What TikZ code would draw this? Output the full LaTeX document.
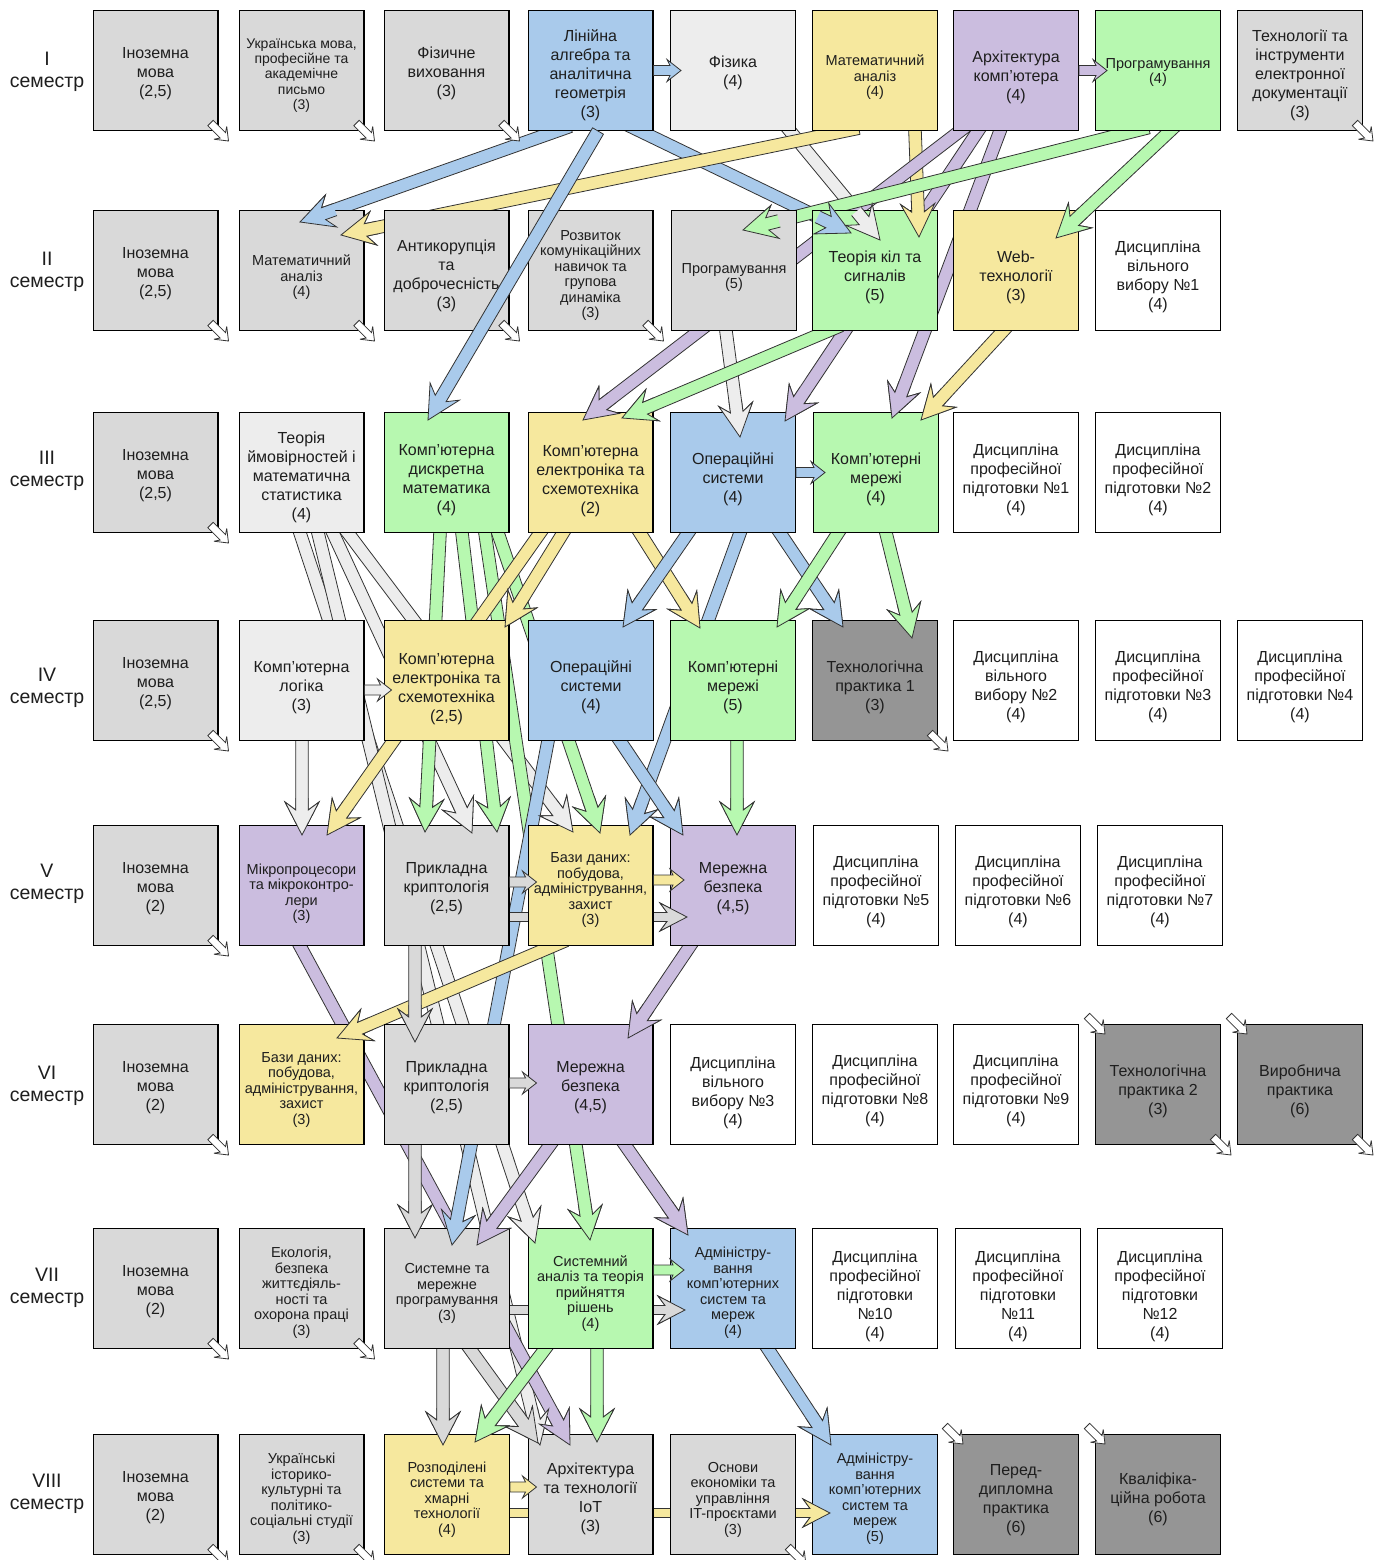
\documentclass[tikz,border=0pt]{standalone}
\usepackage{fontspec}
\setmainfont{Liberation Sans}
\usetikzlibrary{calc}
\pgfdeclarelayer{bg}
\pgfdeclarelayer{fg}
\pgfsetlayers{bg,main,fg}
\definecolor{cgray}{HTML}{D9D9D9}
\definecolor{clight}{HTML}{EDEDED}
\definecolor{cblue}{HTML}{A9CAEB}
\definecolor{cyel}{HTML}{F6E89E}
\definecolor{cpur}{HTML}{CBBDDF}
\definecolor{cgrn}{HTML}{B7F8B0}
\definecolor{cdark}{HTML}{959595}
\definecolor{ctext}{HTML}{1E1E1E}
\newcommand\fN{\fontsize{16}{19}\selectfont}
\newcommand\fS{\fontsize{14.5}{15.5}\selectfont}
\newcommand\fT{\fontsize{14}{15.2}\selectfont}
\newcommand\fL{\fontsize{19.5}{22}\selectfont}
\newcommand\bigarr{\def\asw{6.3pt}\def\ahi{25pt}\def\ahl{33pt}\def\ahw{17pt}\def\ahb{37pt}}
\newcommand\smarr{\def\asw{5pt}\def\ahi{11pt}\def\ahl{14pt}\def\ahw{11pt}\def\ahb{16pt}}
\newcommand\medarr{\def\asw{4.5pt}\def\ahi{20pt}\def\ahl{27pt}\def\ahw{14pt}\def\ahb{30pt}}
\newcommand\cnarr{\def\asw{3.8pt}\def\ahi{8pt}\def\ahl{11.5pt}\def\ahw{9pt}\def\ahb{13pt}}
\bigarr
\def\aext{0pt}
\newcommand\arrfull[3]{%
 \path[arrline,fill=#1] let \p1=(#2),\p2=(#3),\n1={atan2(\y2-\y1,\x2-\x1)} in
 ($(\p1)+(\n1+180:\aext)+(\n1+90:\asw)$) -- ($(\p2)+(\n1+180:\ahi)+(\n1+90:\asw)$) -- ($(\p2)+(\n1+180:\ahl)+(\n1+90:\ahw)$) -- (\p2) -- ($(\p2)+(\n1+180:\ahl)+(\n1-90:\ahw)$) -- ($(\p2)+(\n1+180:\ahi)+(\n1-90:\asw)$) -- ($(\p1)+(\n1+180:\aext)+(\n1-90:\asw)$) -- cycle;}
\newcommand\arrtip[3]{%
 \path[fill=#1] let \p1=(#2),\p2=(#3),\n1={atan2(\y2-\y1,\x2-\x1)} in
 ($(\p2)+(\n1+180:\ahb)+(\n1+90:\asw)$) -- ($(\p2)+(\n1+180:\ahi)+(\n1+90:\asw)$) -- ($(\p2)+(\n1+180:\ahl)+(\n1+90:\ahw)$) -- (\p2) -- ($(\p2)+(\n1+180:\ahl)+(\n1-90:\ahw)$) -- ($(\p2)+(\n1+180:\ahi)+(\n1-90:\asw)$) -- ($(\p2)+(\n1+180:\ahb)+(\n1-90:\asw)$) -- cycle;
 \path[arrline] let \p1=(#2),\p2=(#3),\n1={atan2(\y2-\y1,\x2-\x1)} in
 ($(\p2)+(\n1+180:\ahb)+(\n1+90:\asw)$) -- ($(\p2)+(\n1+180:\ahi)+(\n1+90:\asw)$) -- ($(\p2)+(\n1+180:\ahl)+(\n1+90:\ahw)$) -- (\p2) -- ($(\p2)+(\n1+180:\ahl)+(\n1-90:\ahw)$) -- ($(\p2)+(\n1+180:\ahi)+(\n1-90:\asw)$) -- ($(\p2)+(\n1+180:\ahb)+(\n1-90:\asw)$);}
\newcommand\conn[3]{{\def\aext{14pt}\begin{pgfonlayer}{bg}\arrfull{#1}{#2}{#3}\end{pgfonlayer}}\begin{pgfonlayer}{fg}\arrtip{#1}{#2}{#3}\end{pgfonlayer}}
\newcommand\connT[3]{\begin{pgfonlayer}{fg}\arrfull{#1}{#2}{#3}\end{pgfonlayer}}
\newcommand\cornerBR[1]{{\cnarr\connT{white}{$(#1.south east)+(-8,-8)$}{$(#1.south east)+(10,10)$}}}
\newcommand\cornerTL[1]{{\cnarr\connT{white}{$(#1.north west)+(-8,-8)$}{$(#1.north west)+(10,10)$}}}
\tikzset{
 box/.style={draw=black, line width=1.4pt, minimum width=124.6pt, minimum height=119.6pt, inner sep=1pt},
 txt/.style={align=center, inner sep=0pt, text=ctext},
 sem/.style={align=center, font=\fL, text=ctext},
 arrline/.style={draw=black!80, line width=0.8pt, line join=miter, miter limit=5}
}
% \bx[dy]{name}{x}{y}{fill}{font}{text}
\newcommand\bx[7][5]{\node[box,fill=#5] (#2) at (#3,#4) {};\node[txt,font=#6] (#2t) at (#3,#4+#1) {#7};}
\begin{document}
\begin{tikzpicture}[x=1pt,y=-1pt]
\useasboundingbox (0,0) rectangle (1386,1560);
\begin{pgfonlayer}{bg}\fill[white] (0,0) rectangle (1386,1560);\end{pgfonlayer}
% semester labels
\node[sem] (s1) at (47,72) {I\\семестр};
\node[sem] (s2) at (47,272) {II\\семестр};
\node[sem] (s3) at (47,470.5) {III\\семестр};
\node[sem] (s4) at (47,688) {IV\\семестр};
\node[sem] (s5) at (47,884) {V\\семестр};
\node[sem] (s6) at (47,1086) {VI\\семестр};
\node[sem] (s7) at (47,1288) {VII\\семестр};
\node[sem] (s8) at (47,1494) {VIII\\семестр};
% row 1
\bx[3]{b11}{155.5}{70.5}{cgray}{\fN}{Іноземна\\мова\\(2,5)}
\bx[5]{b12}{301.5}{70.5}{cgray}{\fT}{Українська мова,\\професійне та\\академічне\\письмо\\(3)}
\bx[3]{b13}{446.5}{70.5}{cgray}{\fN}{Фізичне\\виховання\\(3)}
\bx[5]{b14}{590.5}{70.5}{cblue}{\fN}{Лінійна\\алгебра та\\аналітична\\геометрія\\(3)}
\bx[2]{b15}{733}{70.5}{clight}{\fN}{Фізика\\(4)}
\bx[7]{b16}{875}{70.5}{cyel}{\fS}{Математичний\\аналіз\\(4)}
\bx[7]{b17}{1016}{70.5}{cpur}{\fN}{Архітектура\\комп’ютера\\(4)}
\bx[2]{b18}{1158}{70.5}{cgrn}{\fS}{Програмування\\(4)}
\bx[5]{b19}{1300}{70.5}{cgray}{\fN}{Технології та\\інструменти\\електронної\\документації\\(3)}
% row 2
\bx[3]{b21}{155.5}{270.5}{cgray}{\fN}{Іноземна\\мова\\(2,5)}
\bx[7]{b22}{301.5}{270.5}{cgray}{\fS}{Математичний\\аналіз\\(4)}
\bx[5]{b23}{446.5}{270.5}{cgray}{\fN}{Антикорупція\\та\\доброчесність\\(3)}
\bx[5]{b24}{590.5}{270.5}{cgray}{\fS}{Розвиток\\комунікаційних\\навичок та\\групова\\динаміка\\(3)}
\bx[7]{b25}{734}{270.5}{cgray}{\fS}{Програмування\\(5)}
\bx[7]{b26}{875}{270.5}{cgrn}{\fN}{Теорія кіл та\\сигналів\\(5)}
\bx[7]{b27}{1016}{270.5}{cyel}{\fN}{Web-\\технології\\(3)}
\bx[6]{b28}{1158}{270.5}{white}{\fN}{Дисципліна\\вільного\\вибору №1\\(4)}
% row 3
\bx[3]{b31}{155.5}{472.5}{cgray}{\fN}{Іноземна\\мова\\(2,5)}
\bx[5]{b32}{301.5}{472.5}{clight}{\fN}{Теорія\\ймовірностей і\\математична\\статистика\\(4)}
\bx[8]{b33}{446.5}{472.5}{cgrn}{\fN}{Комп’ютерна\\дискретна\\математика\\(4)}
\bx[9]{b34}{590.5}{472.5}{cyel}{\fN}{Комп’ютерна\\електроніка та\\схемотехніка\\(2)}
\bx[7]{b35}{733}{472.5}{cblue}{\fN}{Операційні\\системи\\(4)}
\bx[7]{b36}{876}{472.5}{cgrn}{\fN}{Комп’ютерні\\мережі\\(4)}
\bx[7]{b37}{1016}{472.5}{white}{\fN}{Дисципліна\\професійної\\підготовки №1\\(4)}
\bx[7]{b38}{1158}{472.5}{white}{\fN}{Дисципліна\\професійної\\підготовки №2\\(4)}
% row 4
\bx[3]{b41}{155.5}{680.5}{cgray}{\fN}{Іноземна\\мова\\(2,5)}
\bx[7]{b42}{301.5}{680.5}{clight}{\fN}{Комп’ютерна\\логіка\\(3)}
\bx[9]{b43}{446.5}{680.5}{cyel}{\fN}{Комп’ютерна\\електроніка та\\схемотехніка\\(2,5)}
\bx[7]{b44}{591}{680.5}{cblue}{\fN}{Операційні\\системи\\(4)}
\bx[7]{b45}{733}{680.5}{cgrn}{\fN}{Комп’ютерні\\мережі\\(5)}
\bx[7]{b46}{875}{680.5}{cdark}{\fN}{Технологічна\\практика 1\\(3)}
\bx[6]{b47}{1016}{680.5}{white}{\fN}{Дисципліна\\вільного\\вибору №2\\(4)}
\bx[6]{b48}{1158}{680.5}{white}{\fN}{Дисципліна\\професійної\\підготовки №3\\(4)}
\bx[6]{b49}{1300}{680.5}{white}{\fN}{Дисципліна\\професійної\\підготовки №4\\(4)}
% row 5
\bx[3]{b51}{155.5}{885.5}{cgray}{\fN}{Іноземна\\мова\\(2)}
\bx[8]{b52}{301.5}{885.5}{cpur}{\fS}{Мікропроцесори\\та мікроконтро-\\лери\\(3)}
\bx[3]{b53}{446.5}{885.5}{cgray}{\fN}{Прикладна\\криптологія\\(2,5)}
\bx[5]{b54}{590.5}{885.5}{cyel}{\fS}{Бази даних:\\побудова,\\адміністрування,\\захист\\(3)}
\bx[3]{b55}{733}{885.5}{cpur}{\fN}{Мережна\\безпека\\(4,5)}
\bx[6]{b56}{876}{885.5}{white}{\fN}{Дисципліна\\професійної\\підготовки №5\\(4)}
\bx[6]{b57}{1018}{885.5}{white}{\fN}{Дисципліна\\професійної\\підготовки №6\\(4)}
\bx[6]{b58}{1160}{885.5}{white}{\fN}{Дисципліна\\професійної\\підготовки №7\\(4)}
% row 6
\bx[3]{b61}{155.5}{1084.5}{cgray}{\fN}{Іноземна\\мова\\(2)}
\bx[5]{b62}{301.5}{1084.5}{cyel}{\fS}{Бази даних:\\побудова,\\адміністрування,\\захист\\(3)}
\bx[3]{b63}{446.5}{1084.5}{cgray}{\fN}{Прикладна\\криптологія\\(2,5)}
\bx[3]{b64}{590.5}{1084.5}{cpur}{\fN}{Мережна\\безпека\\(4,5)}
\bx[8]{b65}{733}{1084.5}{white}{\fN}{Дисципліна\\вільного\\вибору №3\\(4)}
\bx[6]{b66}{875}{1084.5}{white}{\fN}{Дисципліна\\професійної\\підготовки №8\\(4)}
\bx[6]{b67}{1016}{1084.5}{white}{\fN}{Дисципліна\\професійної\\підготовки №9\\(4)}
\bx[7]{b68}{1158}{1084.5}{cdark}{\fN}{Технологічна\\практика 2\\(3)}
\bx[7]{b69}{1300}{1084.5}{cdark}{\fN}{Виробнича\\практика\\(6)}
% row 7
\bx[3]{b71}{155.5}{1288.5}{cgray}{\fN}{Іноземна\\мова\\(2)}
\bx[4]{b72}{301.5}{1288.5}{cgray}{\fS}{Екологія,\\безпека\\життєдіяль-\\ності та\\охорона праці\\(3)}
\bx[5]{b73}{447}{1288.5}{cgray}{\fS}{Системне та\\мережне\\програмування\\(3)}
\bx[5]{b74}{590.5}{1288.5}{cgrn}{\fS}{Системний\\аналіз та теорія\\прийняття\\рішень\\(4)}
\bx[4]{b75}{733}{1288.5}{cblue}{\fS}{Адміністру-\\вання\\комп’ютерних\\систем та\\мереж\\(4)}
\bx[8]{b76}{875}{1288.5}{white}{\fN}{Дисципліна\\професійної\\підготовки\\№10\\(4)}
\bx[8]{b77}{1018}{1288.5}{white}{\fN}{Дисципліна\\професійної\\підготовки\\№11\\(4)}
\bx[8]{b78}{1160}{1288.5}{white}{\fN}{Дисципліна\\професійної\\підготовки\\№12\\(4)}
% row 8
\bx[3]{b81}{155.5}{1494.5}{cgray}{\fN}{Іноземна\\мова\\(2)}
\bx[4]{b82}{301.5}{1494.5}{cgray}{\fS}{Українські\\історико-\\культурні та\\політико-\\соціальні студії\\(3)}
\bx[5]{b83}{447}{1494.5}{cyel}{\fS}{Розподілені\\системи та\\хмарні\\технології\\(4)}
\bx[4]{b84}{590.5}{1494.5}{cgray}{\fN}{Архітектура\\та технології\\IoT\\(3)}
\bx[5]{b85}{733}{1494.5}{cgray}{\fS}{Основи\\економіки та\\управління\\IT-проєктами\\(3)}
\bx[4]{b86}{875}{1494.5}{cblue}{\fS}{Адміністру-\\вання\\комп’ютерних\\систем та\\мереж\\(5)}
\bx[6]{b87}{1016}{1494.5}{cdark}{\fN}{Перед-\\дипломна\\практика\\(6)}
\bx[5]{b88}{1158}{1494.5}{cdark}{\fN}{Кваліфіка-\\ційна робота\\(6)}
% ---------- connectors ----------
% row 1
{\smarr \connT{cblue}{b14.east}{$(b15.west)+(11,0)$}}
{\smarr \connT{cpur}{b17.east}{$(b18.west)+(12,0)$}}
\conn{cblue}{$(b14.south)+(-33.5,0)$}{$(b22.north)+(-1.5,12)$}
\conn{cblue}{$(b14.south)+(49.5,0)$}{$(b26.north)+(-24,23)$}
\conn{clight}{$(b15.south)+(57,0)$}{$(b26.north)+(5,30)$}
\conn{cyel}{$(b16.south)+(-30,0)$}{$(b22.north)+(39.5,25)$}
\conn{cyel}{$(b16.south)+(40,0)$}{$(b26.north)+(44,27)$}
\conn{cpur}{$(b17.south)+(-56,0)$}{$(b34.north)+(-7.5,8)$}
\conn{cpur}{$(b17.south)+(-38,0)$}{$(b35.north)+(52,9)$}
\conn{cpur}{$(b17.south)+(-16,0)$}{$(b36.north)+(16,6)$}
\conn{cgrn}{$(b18.south)+(-23,0)$}{$(b25.north)+(9,20)$}
\conn{cgrn}{$(b18.south)+(12,0)$}{$(b27.north)+(40,28)$}
\connT{cblue}{$(b14.south)+(7.5,0)$}{$(b33.north)+(-18.5,8)$}
% row 2
\conn{clight}{$(b25.south)+(-8,0)$}{$(b35.north)+(7,25)$}
\conn{cgrn}{$(b26.south)+(-47,0)$}{$(b34.north)+(31.5,6)$}
\conn{cyel}{$(b27.south)+(-13,0)$}{$(b36.north)+(45,8)$}
% row 3
{\smarr \connT{cblue}{b35.east}{$(b36.west)+(12,0)$}}
\conn{clight}{$(b32.south)+(-1.5,0)$}{$(b74.north)+(-55.5,15)$}
\conn{clight}{$(b32.south)+(16.5,0)$}{$(b84.north)+(-50.5,11)$}
\conn{clight}{$(b32.south)+(31.5,0)$}{$(b53.north)+(25.5,8)$}
\conn{clight}{$(b32.south)+(46.5,0)$}{$(b54.north)+(-17.5,7)$}
\conn{cgrn}{$(b33.south)+(-6.5,0)$}{$(b53.north)+(-21.5,7)$}
\conn{cgrn}{$(b33.south)+(15.5,0)$}{$(b53.north)+(50.5,7)$}
\conn{cgrn}{$(b33.south)+(38.5,0)$}{$(b74.north)+(-0.5,12)$}
\conn{cgrn}{$(b33.south)+(51.5,0)$}{$(b54.north)+(9.5,8)$}
\conn{cyel}{$(b34.south)+(-50.5,0)$}{$(b52.north)+(25.5,10)$}
\conn{cyel}{$(b34.south)+(-27.5,0)$}{$(b43.north)+(58.5,7)$}
\conn{cyel}{$(b34.south)+(49.5,0)$}{$(b45.north)+(-33,8)$}
\conn{cblue}{$(b35.south)+(-45,0)$}{$(b44.north)+(32,7)$}
\conn{cblue}{$(b35.south)+(7,0)$}{$(b54.north)+(39.5,10)$}
\conn{cblue}{$(b35.south)+(47,0)$}{$(b46.north)+(-32,7)$}
\conn{cgrn}{$(b36.south)+(-38,0)$}{$(b45.north)+(44,7)$}
\conn{cgrn}{$(b36.south)+(10,0)$}{$(b46.north)+(37,18)$}
% row 4
{\smarr \connT{clight}{$(b42.east)+(0,9.5)$}{$(b43.west)+(8,9.5)$}}
\conn{clight}{$(b42.south)+(0.5,0)$}{$(b52.north)+(0.5,10)$}
\conn{cblue}{$(b44.south)+(29,0)$}{$(b55.north)+(-50,10)$}
\conn{cblue}{$(b44.south)+(-43,0)$}{$(b73.north)+(5,17)$}
\conn{cgrn}{$(b45.south)+(4,0)$}{$(b55.north)+(4,10)$}
% row 5
{\smarr \connT{cgray}{$(b53.east)+(0,-3.5)$}{$(b54.west)+(9,-3.5)$}}
{\smarr \connT{cyel}{$(b54.east)+(0,-5.5)$}{$(b55.west)+(14,-5.5)$}}
{\medarr \conn{cgray}{$(b53.east)+(0,31.5)$}{$(b55.west)+(17,31.5)$}}
\conn{cpur}{$(b52.south)+(-1.5,0)$}{$(b84.north)+(-20.5,11)$}
\conn{cyel}{$(b54.south)+(-37.5,0)$}{$(b62.north)+(35.5,14)$}
\conn{cgray}{$(b53.south)+(-31.5,0)$}{$(b63.north)+(-31.5,18)$}
\conn{cpur}{$(b55.south)+(-43,0)$}{$(b64.north)+(37.5,14)$}
% row 6
{\smarr \connT{cgray}{$(b63.east)+(0,-1.5)$}{$(b64.west)+(9,-1.5)$}}
\conn{cgray}{$(b63.south)+(-31.5,0)$}{$(b73.north)+(-32,10)$}
\conn{cpur}{$(b64.south)+(-40.5,0)$}{$(b73.north)+(30,17)$}
\conn{cpur}{$(b64.south)+(34.5,0)$}{$(b75.north)+(-45,7)$}
% row 7
{\smarr \connT{cgrn}{$(b74.east)+(0,-18.5)$}{$(b75.west)+(14,-18.5)$}}
{\medarr \conn{cgray}{$(b73.east)+(0,21.5)$}{$(b75.west)+(15,21.5)$}}
\conn{cgray}{$(b73.south)+(-4,0)$}{$(b83.north)+(-4,11)$}
\conn{cgray}{$(b73.south)+(23,0)$}{$(b84.north)+(-52.5,9)$}
\conn{cgrn}{$(b74.south)+(-45.5,0)$}{$(b83.north)+(28,8)$}
\conn{cgrn}{$(b74.south)+(6.5,0)$}{$(b84.north)+(6.5,8)$}
\conn{cblue}{$(b75.south)+(35,0)$}{$(b86.north)+(-44,11)$}
% row 8
{\smarr \connT{cyel}{$(b83.east)+(0,-7.5)$}{$(b84.west)+(9,-7.5)$}}
{\medarr \conn{cyel}{$(b83.east)+(0,18.5)$}{$(b86.west)+(18,18.5)$}}
% corner markers
\cornerBR{b11}\cornerBR{b12}\cornerBR{b13}\cornerBR{b19}
\cornerBR{b21}\cornerBR{b22}\cornerBR{b23}\cornerBR{b24}
\cornerBR{b31}\cornerBR{b41}\cornerBR{b46}\cornerBR{b51}
\cornerBR{b61}\cornerBR{b68}\cornerBR{b69}\cornerBR{b71}\cornerBR{b72}
\cornerBR{b81}\cornerBR{b82}\cornerBR{b85}
\cornerTL{b68}\cornerTL{b69}\cornerTL{b87}\cornerTL{b88}
\end{tikzpicture}
\end{document}
